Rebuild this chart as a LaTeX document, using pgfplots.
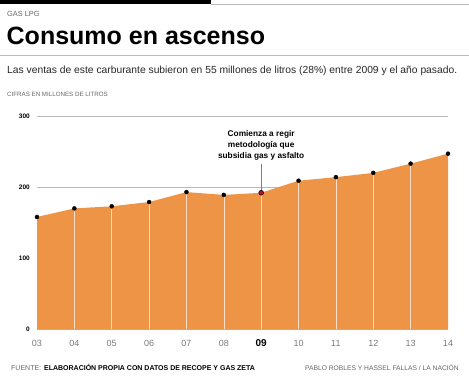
\documentclass[border=0pt]{standalone}
\usepackage{pgfplots}
\pgfplotsset{compat=1.18}
\usepackage{fontspec}
\setmainfont{Liberation Sans}
\definecolor{areaor}{HTML}{EE9447}
\definecolor{txtgray}{HTML}{666666}
\definecolor{ticklgray}{HTML}{7A7A7A}
\definecolor{linegray}{HTML}{BBBBBB}
\definecolor{mkred}{HTML}{B3122B}
\begin{document}
\begin{tikzpicture}[x=1pt,y=1pt]
\useasboundingbox (0,0) rectangle (469,378);
% header
\fill[black] (0,373.5) rectangle (211,378);
\draw[linegray,line width=0.8pt] (211,373.2) -- (469,373.2);
\node[anchor=base west,inner sep=0pt,text=txtgray] at (7,361.5) {\fontsize{7.4}{8}\selectfont GAS LPG};
\node[anchor=base west,inner sep=0pt] at (6.5,333) {\fontsize{25}{28}\selectfont\bfseries Consumo en ascenso};
\draw[linegray,line width=0.8pt] (0,323) -- (469,323);
\node[anchor=base west,inner sep=0pt,text=black!85] at (7,304) {\fontsize{10.3}{12}\selectfont Las ventas de este carburante subieron en 55 millones de litros (28\%) entre 2009 y el año pasado.};
\node[anchor=base west,inner sep=0pt,text=txtgray] at (7,281.5) {\fontsize{6.2}{7}\selectfont CIFRAS EN MILLONES DE LITROS};
% footer
\node[anchor=base west,inner sep=0pt] at (11,7.5) {\fontsize{7}{8}\selectfont{\color{txtgray}FUENTE:}\hspace{3pt}\bfseries ELABORACIÓN PROPIA CON DATOS DE RECOPE Y GAS ZETA};
\node[anchor=base east,inner sep=0pt,text=txtgray] at (459,7.5) {\fontsize{6.7}{8}\selectfont PABLO ROBLES Y HASSEL FALLAS / LA NACIÓN};
\begin{axis}[
  at={(37pt,48.7pt)}, anchor=south west,
  scale only axis, width=411pt, height=213.3pt,
  xmin=0, xmax=11, ymin=0, ymax=300,
  axis line style={draw=none},
  major tick length=0pt,
  xtick={0,...,11},
  xticklabels={03,04,05,06,07,08,{\color{black}\fontsize{10}{10}\selectfont\bfseries 09},10,11,12,13,14},
  xticklabel style={anchor=north,inner sep=0pt,yshift=-10.5pt,font=\fontsize{9}{10}\selectfont,text=ticklgray},
  ytick={0,100,200,300},
  yticklabels={0,100,200,300},
  yticklabel style={anchor=east,inner sep=0pt,xshift=-7pt,font=\fontsize{6.5}{7}\selectfont\bfseries},
  ymajorgrids,
  grid style={gray!55,line width=0.5pt,dash pattern=on 0.4pt off 0.5pt},
  clip=false,
]
\addplot[fill=areaor,draw=none] coordinates {
 (0,158) (1,170) (2,173) (3,179) (4,193) (5,189) (6,192) (7,209) (8,214) (9,220) (10,233) (11,247)
} \closedcycle;
\addplot[ycomb,white!70!areaor,line width=0.6pt,no marks] coordinates {
 (1,170) (2,173) (3,179) (4,193) (5,189) (6,192) (7,209) (8,214) (9,220) (10,233)
};
\draw[gray,line width=0.5pt] (axis cs:6,192) -- (axis cs:6,232);
\addplot[only marks,mark=*,mark size=2pt,mark options={fill=black,draw=black}] coordinates {
 (0,158) (1,170) (2,173) (3,179) (4,193) (5,189) (7,209) (8,214) (9,220) (10,233) (11,247)
};
\addplot[only marks,mark=*,mark size=2.4pt,mark options={fill=mkred,draw=black!80!mkred,line width=0.7pt}] coordinates {(6,192)};
\node[anchor=south,align=center,inner sep=0pt,font=\fontsize{8.3}{11}\selectfont\bfseries] at (axis cs:6,237) {Comienza a regir\\metodología que\\subsidia gas y asfalto};
\end{axis}
\end{tikzpicture}
\end{document}
